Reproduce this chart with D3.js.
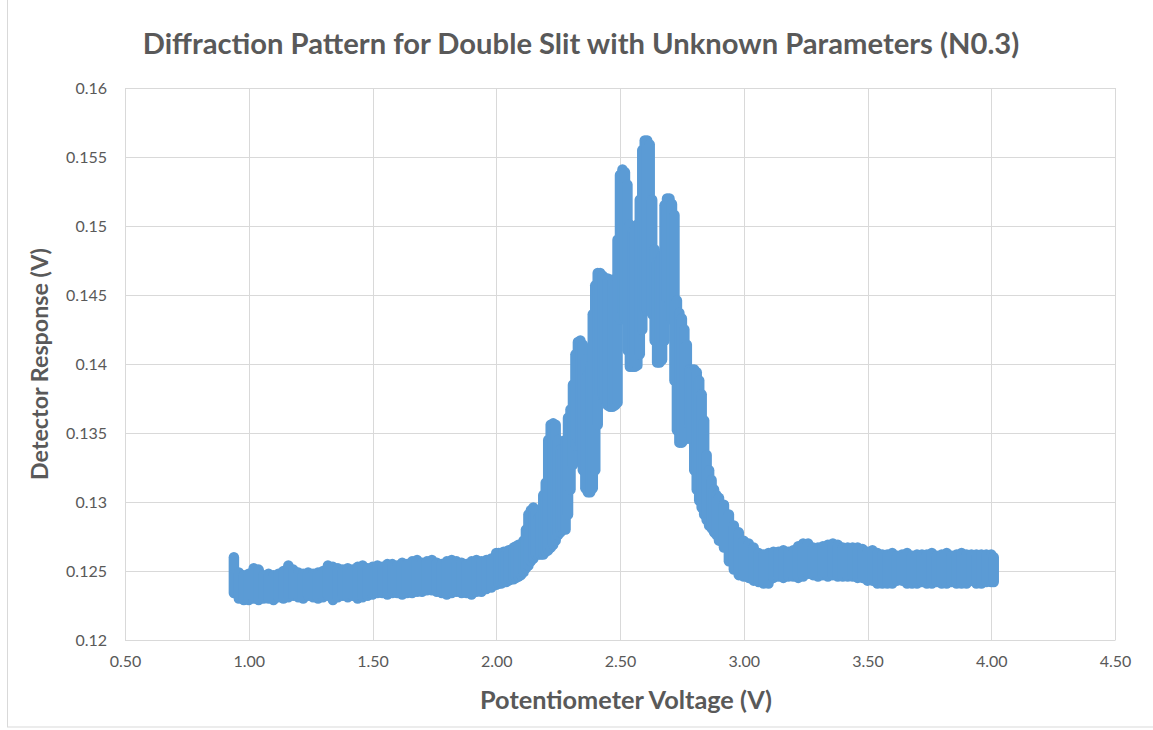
<!DOCTYPE html>
<html><head><meta charset="utf-8">
<script src="https://cdn.jsdelivr.net/npm/d3@7"></script>
<style>html,body{margin:0;padding:0;background:#fff;}svg{display:block;}</style>
</head><body>
<svg id="chart" width="1153" height="730"></svg>
<script>
// ---- data ----
const chartTitle = "Diffraction Pattern for Double Slit with Unknown Parameters (N0.3)";
const xTitle = "Potentiometer Voltage (V)";
const yTitle = "Detector Response (V)";
const xTickValues = [0.5, 1.0, 1.5, 2.0, 2.5, 3.0, 3.5, 4.0, 4.5];
const xTickLabels = ["0.50","1.00","1.50","2.00","2.50","3.00","3.50","4.00","4.50"];
const yTickValues = [0.12,0.125,0.13,0.135,0.14,0.145,0.15,0.155,0.16];
const yTickLabels = ["0.12","0.125","0.13","0.135","0.14","0.145","0.15","0.155","0.16"];

// Potentiometer voltage of each reading column
const voltage = [
0.94,0.96,0.98,1.00,1.02,1.04,1.06,1.08,1.10,1.12,1.14,1.16,1.18,1.20,1.22,1.24,1.26,1.28,1.30,1.32,
1.34,1.36,1.38,1.40,1.42,1.44,1.46,1.48,1.50,1.52,1.54,1.56,1.58,1.60,1.62,1.64,1.66,1.68,1.70,1.72,
1.74,1.76,1.78,1.80,1.82,1.84,1.86,1.88,1.90,1.92,1.94,1.96,1.98,
2.00,2.01,2.02,2.03,2.04,2.05,2.06,2.07,2.08,2.09,2.10,2.11,2.12,2.13,2.14,2.15,2.16,2.17,2.18,2.19,
2.20,2.21,2.22,2.23,2.24,2.25,2.26,2.27,2.28,2.29,2.30,2.31,2.32,2.33,2.34,2.35,2.36,2.37,2.38,2.39,
2.40,2.41,2.42,2.43,2.44,2.45,2.46,2.47,2.48,2.49,2.50,2.51,2.52,2.53,2.54,2.55,2.56,2.57,2.58,2.59,
2.60,2.61,2.62,2.63,2.64,2.65,2.66,2.67,2.68,2.69,2.70,2.71,2.72,2.73,2.74,2.75,2.76,2.77,2.78,2.79,
2.80,2.81,2.82,2.83,2.84,2.85,2.86,2.87,2.88,2.89,2.90,
2.92,2.94,2.96,2.98,3.00,3.02,3.04,3.06,3.08,3.10,3.12,3.14,3.16,3.18,3.20,3.22,3.24,3.26,3.28,3.30,
3.32,3.34,3.36,3.38,3.40,3.42,3.44,3.46,3.48,3.50,3.52,3.54,3.56,3.58,3.60,3.62,3.64,3.66,3.68,3.70,
3.72,3.74,3.76,3.78,3.80,3.82,3.84,3.86,3.88,3.90,3.92,3.94,3.96,3.98,4.00,4.01
];
// Highest detector reading in each column
const respHigh = [
.1260,.1249,.1247,.1248,.1252,.1251,.1247,.1248,.1247,.1248,.1250,.1254,.1251,.1249,.1248,.1249,.1248,.1249,.1250,.1254,
.1253,.1252,.1251,.1252,.1251,.1253,.1254,.1252,.1253,.1254,.1253,.1255,.1255,.1254,.1256,.1255,.1257,.1258,.1256,.1257,
.1258,.1256,.1255,.1257,.1258,.1257,.1256,.1255,.1257,.1258,.1257,.1258,.1259,
.1263,.1263,.1263,.1264,.1264,.1265,.1265,.1267,.1268,.1269,.1269,.1272,.1280,.1291,.1294,.1296,.1294,.1288,.1291,.1305,
.1314,.1345,.1356,.1357,.1356,.1345,.1338,.1338,.1345,.1361,.1367,.1385,.1407,.1416,.1417,.1414,.1403,.1392,.1399,.1436,
.1457,.1466,.1466,.1464,.1462,.1462,.1461,.1461,.1457,.1490,.1537,.1541,.1539,.1530,.1501,.1496,.1496,.1501,.1519,.1555,
.1562,.1562,.1559,.1519,.1483,.1474,.1474,.1479,.1515,.1520,.1520,.1516,.1508,.1446,.1437,.1433,.1425,.1414,.1396,.1396,
.1396,.1394,.1388,.1378,.1359,.1334,.1323,.1316,.1309,.1305,.1303,
.1298,.1291,.1283,.1278,.1272,.1270,.1267,.1263,.1262,.1263,.1264,.1264,.1265,.1264,.1265,.1268,.1270,.1270,.1267,.1267,
.1268,.1269,.1270,.1269,.1267,.1267,.1267,.1267,.1266,.1264,.1265,.1263,.1262,.1262,.1263,.1261,.1262,.1263,.1261,.1262,
.1262,.1262,.1263,.1261,.1262,.1263,.1261,.1262,.1263,.1262,.1262,.1262,.1262,.1262,.1262,.1260
];
// Lowest detector reading in each column
const respLow = [
.1234,.1230,.1229,.1229,.1230,.1229,.1230,.1230,.1229,.1231,.1230,.1231,.1232,.1231,.1230,.1232,.1231,.1230,.1231,.1232,
.1229,.1231,.1232,.1231,.1232,.1230,.1231,.1232,.1233,.1234,.1234,.1233,.1234,.1234,.1233,.1234,.1234,.1235,.1235,.1236,
.1236,.1235,.1234,.1233,.1234,.1235,.1234,.1234,.1233,.1235,.1235,.1237,.1238,
.1240,.1241,.1241,.1242,.1242,.1243,.1244,.1244,.1245,.1246,.1247,.1249,.1252,.1254,.1257,.1259,.1262,.1262,.1262,.1262,
.1264,.1265,.1267,.1269,.1272,.1276,.1278,.1280,.1280,.1291,.1309,.1327,.1341,.1346,.1341,.1323,.1310,.1307,.1307,.1310,
.1323,.1356,.1378,.1378,.1374,.1370,.1369,.1369,.1370,.1372,.1432,.1438,.1433,.1410,.1398,.1398,.1398,.1399,.1407,.1425,
.1439,.1439,.1439,.1436,.1417,.1401,.1401,.1403,.1417,.1446,.1446,.1432,.1388,.1352,.1343,.1343,.1345,.1349,.1356,.1345,
.1323,.1309,.1301,.1296,.1291,.1287,.1283,.1281,.1278,.1276,.1272,
.1267,.1257,.1251,.1247,.1246,.1245,.1243,.1242,.1241,.1241,.1245,.1246,.1245,.1246,.1246,.1245,.1246,.1248,.1247,.1246,
.1247,.1246,.1247,.1246,.1246,.1246,.1246,.1245,.1245,.1243,.1243,.1241,.1241,.1241,.1241,.1243,.1243,.1241,.1241,.1241,
.1242,.1241,.1241,.1242,.1241,.1241,.1242,.1241,.1241,.1241,.1243,.1241,.1241,.1242,.1242,.1242
];

// ---- drawing ----
const W = 1153, H = 730;
const plot = {left: 125, right: 1115, top: 88, bottom: 640};
const textColor = "#595959", gridColor = "#D9D9D9", seriesColor = "#5B9BD5";
const svg = d3.select("#chart");

svg.append("rect").attr("x", 7.5).attr("y", -2).attr("width", W + 10).attr("height", 729)
  .attr("fill", "#fff").attr("stroke", "#D9D9D9").attr("stroke-width", 1);

const x = d3.scaleLinear().domain([0.5, 4.5]).range([plot.left, plot.right]);
const y = d3.scaleLinear().domain([0.12, 0.16]).range([plot.bottom, plot.top]);

// gridlines
const gx = svg.append("g").attr("class", "x-grid");
gx.selectAll("line").data(xTickValues).join("line")
  .attr("x1", d => Math.round(x(d)) + 0.5).attr("x2", d => Math.round(x(d)) + 0.5)
  .attr("y1", plot.top).attr("y2", plot.bottom)
  .attr("stroke", gridColor).attr("stroke-width", 1);
const gy = svg.append("g").attr("class", "y-grid");
gy.selectAll("line").data(yTickValues).join("line")
  .attr("x1", plot.left).attr("x2", plot.right)
  .attr("y1", d => Math.round(y(d)) + 0.5).attr("y2", d => Math.round(y(d)) + 0.5)
  .attr("stroke", gridColor).attr("stroke-width", 1);

// axes (labels only, lines drawn as grid)
const xAxis = d3.axisBottom(x).tickValues(xTickValues)
  .tickFormat((d, i) => xTickLabels[i]).tickSize(0).tickPadding(16);
const ax = svg.append("g").attr("transform", `translate(0,${plot.bottom})`).call(xAxis);
ax.select(".domain").attr("stroke", gridColor);
ax.selectAll("text").attr("fill", textColor).attr("font-family", "Lato, 'Open Sans', sans-serif").attr("font-size", 16);

const yAxis = d3.axisLeft(y).tickValues(yTickValues)
  .tickFormat((d, i) => yTickLabels[i]).tickSize(0).tickPadding(18);
const ay = svg.append("g").attr("transform", `translate(${plot.left},0)`).call(yAxis);
ay.select(".domain").remove();
ay.selectAll("text").attr("fill", textColor).attr("font-family", "Lato, 'Open Sans', sans-serif").attr("font-size", 16);

// data: each reading column drawn as a stack of round markers (range of readings)
svg.append("g").attr("class", "series")
  .selectAll("line").data(voltage).join("line")
  .attr("x1", d => x(d)).attr("x2", d => x(d))
  .attr("y1", (d, i) => y(respHigh[i])).attr("y2", (d, i) => y(respLow[i]))
  .attr("stroke", seriesColor).attr("stroke-width", 10.5).attr("stroke-linecap", "round");

// titles, scaled to the reference widths
function fitWidth(sel, target) {
  const w = sel.node().getComputedTextLength();
  const fs = parseFloat(sel.attr("font-size"));
  if (w > 0) sel.attr("font-size", fs * target / w);
}
const t = svg.append("text").attr("x", 581).attr("y", 54).attr("text-anchor", "middle")
  .attr("fill", textColor).attr("font-family", "Lato, 'Open Sans', sans-serif")
  .attr("font-weight", "bold").attr("font-size", 24).text(chartTitle);
fitWidth(t, 877);

const xt = svg.append("text").attr("x", 626).attr("y", 709).attr("text-anchor", "middle")
  .attr("fill", textColor).attr("font-family", "Lato, 'Open Sans', sans-serif")
  .attr("font-weight", "bold").attr("font-size", 20).text(xTitle);
fitWidth(xt, 292);

const yt = svg.append("text").attr("transform", "translate(48,364) rotate(-90)").attr("text-anchor", "middle")
  .attr("fill", textColor).attr("font-family", "Lato, 'Open Sans', sans-serif")
  .attr("font-weight", "bold").attr("font-size", 20).text(yTitle);
fitWidth(yt, 232);
</script>
</body></html>
